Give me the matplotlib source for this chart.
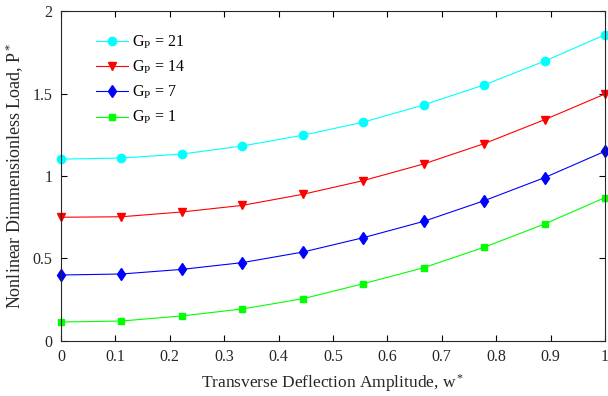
import matplotlib
matplotlib.use("Agg")
import matplotlib.pyplot as plt
import numpy as np

plt.rcParams['font.family'] = ['Liberation Serif', 'DejaVu Serif']
plt.rcParams['mathtext.fontset'] = 'custom'
plt.rcParams['mathtext.rm'] = 'Liberation Serif'
plt.rcParams['mathtext.it'] = 'Liberation Serif:italic'

# Transverse deflection amplitude w*
w = [0, 1/9, 2/9, 3/9, 4/9, 5/9, 6/9, 7/9, 8/9, 1]

# Nonlinear dimensionless load P* for each G_P
p_g21 = [1.102, 1.109, 1.133, 1.182, 1.247, 1.326, 1.431, 1.552, 1.696, 1.856]
p_g14 = [0.750, 0.753, 0.782, 0.822, 0.889, 0.972, 1.073, 1.196, 1.341, 1.497]
p_g7 = [0.400, 0.406, 0.434, 0.475, 0.539, 0.626, 0.725, 0.850, 0.990, 1.150]
p_g1 = [0.115, 0.121, 0.152, 0.194, 0.256, 0.347, 0.444, 0.568, 0.709, 0.869]

labels = [r'G$_\mathrm{P}$ = 21', r'G$_\mathrm{P}$ = 14',
          r'G$_\mathrm{P}$ = 7', r'G$_\mathrm{P}$ = 1']
xticks = [0, 0.1, 0.2, 0.3, 0.4, 0.5, 0.6, 0.7, 0.8, 0.9, 1]
xticklabels = ['0', '0.1', '0.2', '0.3', '0.4', '0.5', '0.6', '0.7', '0.8', '0.9', '1']
yticks = [0, 0.5, 1, 1.5, 2]
yticklabels = ['0', '0.5', '1', '1.5', '2']

fig = plt.figure(figsize=(6.08, 3.96), dpi=100)
ax = fig.add_axes([0.1003, 0.1389, 0.8947, 0.8333])

styles = [
    (p_g21, '#00FFFF', 'o', 6.0),
    (p_g14, '#FF0000', 'v', 6.0),
    (p_g7, '#0000FF', 'd', 6.2),
    (p_g1, '#00FF00', 's', 4.4),
]
for (vals, c, m, ms), lab in zip(styles, labels):
    ax.plot(w, vals, color=c, marker=m, markersize=ms, linewidth=0.8,
            markeredgecolor=c, markerfacecolor=c, label=lab, clip_on=False)

ax.set_xlim(0, 1)
ax.set_ylim(0, 2)
ax.set_xticks(xticks)
ax.set_xticklabels(xticklabels)
ax.set_yticks(yticks)
ax.set_yticklabels(yticklabels)
ax.tick_params(direction='in', top=True, right=True, length=4, width=0.8,
               labelsize=11.5, labelcolor='#262626', pad=6)
for s in ax.spines.values():
    s.set_linewidth(0.8)
    s.set_color('#262626')

ax.set_xlabel(r'Transverse Deflection Amplitude, w$^*$', fontsize=12.5,
              color='#262626', labelpad=5)
ax.set_ylabel(r'Nonlinear Dimmensionless Load, P$^*$', fontsize=13,
              color='#262626', labelpad=5)

leg = ax.legend(loc='upper left', bbox_to_anchor=(0.052, 0.95), frameon=False,
                fontsize=11.5, handlelength=2.0, handletextpad=0.3,
                labelspacing=0.48, borderaxespad=0)

fig.savefig('out.png', dpi=100)
